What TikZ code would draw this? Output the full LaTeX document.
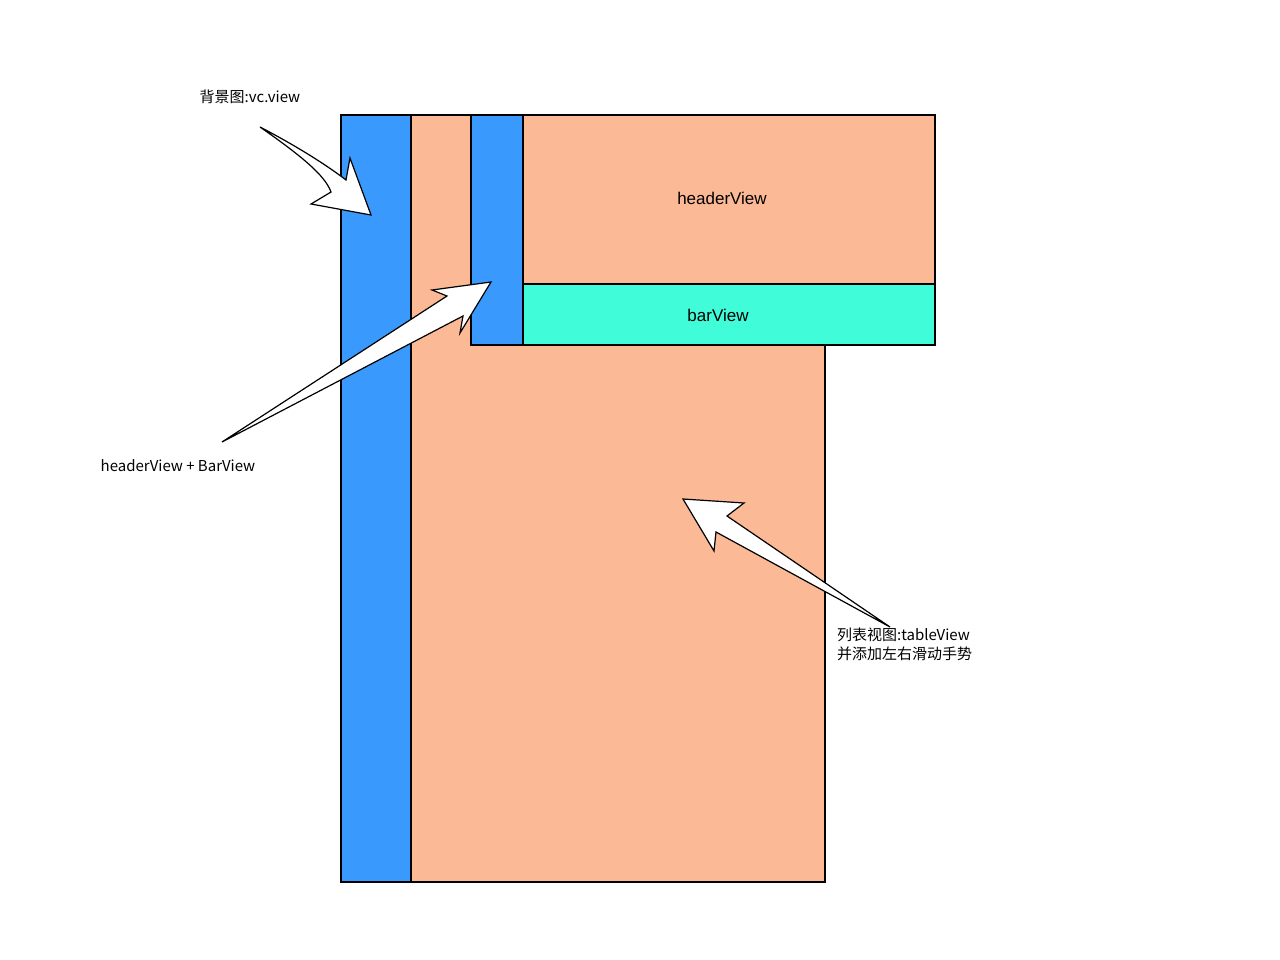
\documentclass[tikz,border=0pt]{standalone}
\usepackage{fontspec}
\setmainfont{Liberation Sans}
\newfontfamily\cjk{Noto Sans CJK SC}
\definecolor{vblue}{HTML}{3A99FC}
\definecolor{salmon}{HTML}{FBB995}
\definecolor{aqua}{HTML}{40FCD8}
\begin{document}
\begin{tikzpicture}[x=1pt,y=-1pt,
  box/.style={draw=black,line width=1.2pt},
  arr/.style={draw=black,fill=white,line width=1.2pt,line join=miter},
  lbl/.style={font=\cjk\fontsize{15}{19}\selectfont,inner sep=0pt}]
\useasboundingbox (0,0) rectangle (1280,960);
\fill[white] (0,0) rectangle (1280,960);
\draw[box,fill=salmon] (411,115) rectangle (825,882);
\draw[box,fill=vblue] (341,115) rectangle (411,882);
\draw[box,fill=vblue] (471,115) rectangle (523,345);
\draw[box,fill=salmon] (523,115) rectangle (935,284);
\draw[box,fill=aqua] (523,284) rectangle (935,345);
\draw[line width=2.5pt] (523,284) -- (935,284);
\node[font=\fontsize{17}{20}\selectfont] (hv) at (722,198) {headerView};
\node[font=\fontsize{17}{20}\selectfont] (bv) at (718,315) {barView};
\node[lbl] (t1) at (250,97) {背景图:vc.view};
\node[lbl] (t2) at (178,466) {headerView + BarView};
\node[lbl,align=left,anchor=north west] (t3) at (837,628) {列表视图:tableView\\并添加左右滑动手势};
\draw[arr] (260,127) .. controls (300,155) and (325,175) .. (331,192) -- (311,204) -- (371,215) -- (350,158) -- (346,180) .. controls (320,160) and (285,140) .. cycle;
\draw[arr] (222,442) -- (447,296) -- (432,290) -- (491,282) -- (460,333) -- (463,316) -- cycle;
\draw[arr] (890,627) -- (727,516) -- (744,503) -- (683,499) -- (714,551) -- (716,532) -- cycle;
\end{tikzpicture}
\end{document}
